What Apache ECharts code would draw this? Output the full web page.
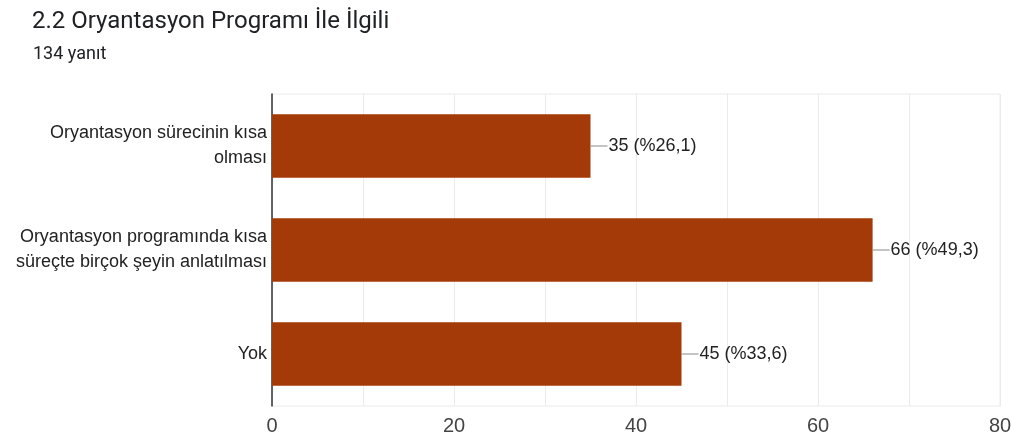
<!DOCTYPE html>
<html><head><meta charset="utf-8">
<script src="https://cdn.jsdelivr.net/npm/echarts@6/dist/echarts.min.js"></script>
<style>html,body{margin:0;padding:0;background:#fff}#c{width:1011px;height:438px}</style>
</head><body><div id="c"></div>
<script>
const titleText = '2.2 Oryantasyon Programı İle İlgili';
const subtitleText = '134 yanıt';
const categories = ['Oryantasyon sürecinin kısa\nolması', 'Oryantasyon programında kısa\nsüreçte birçok şeyin anlatılması', 'Yok'];
const counts = [35, 66, 45];
const percents = ['26,1', '49,3', '33,6'];
const xTicks = [0, 20, 40, 60, 80];

const chart = echarts.init(document.getElementById('c'), null, {renderer: 'canvas'});
chart.setOption({
  animation: false,
  title: [
    {text: titleText, left: 27, top: 5, textStyle: {fontFamily: 'Roboto', fontSize: 24, fontWeight: 'normal', color: '#202124'}},
    {text: subtitleText, left: 28, top: 40, textStyle: {fontFamily: 'Roboto', fontSize: 18, fontWeight: 'normal', color: '#202124'}}
  ],
  grid: {left: 272, right: 11, top: 94, bottom: 32, outerBoundsMode: 'none', containLabel: false, show: true, borderColor: '#ebebeb', borderWidth: 1},
  xAxis: {
    type: 'value', min: 0, max: 80, interval: 10,
    axisLine: {show: false}, axisTick: {show: false},
    splitLine: {show: true, lineStyle: {color: '#ebebeb', width: 1}},
    axisLabel: {
      margin: 10, fontFamily: 'Liberation Sans', fontSize: 20, color: '#444',
      formatter: v => xTicks.includes(v) ? String(v) : ''
    }
  },
  yAxis: {
    type: 'category', data: categories, inverse: true,
    axisLine: {show: true, lineStyle: {color: '#333', width: 1.5}},
    axisTick: {show: false},
    splitLine: {show: false},
    axisLabel: {margin: 5, fontFamily: 'Liberation Sans', fontSize: 18, lineHeight: 25, color: '#222', align: 'right'}
  },
  series: [{
    type: 'bar',
    data: counts,
    barWidth: '61%',
    itemStyle: {color: '#a33a08'},
    label: {
      show: true, position: 'right', distance: 0,
      formatter: p => '{l|}{v|' + counts[p.dataIndex] + ' (%' + percents[p.dataIndex] + ')}',
      rich: {
        l: {width: 17, height: 1, backgroundColor: '#888'},
        v: {fontFamily: 'Liberation Sans', fontSize: 18, color: '#222', padding: [0, 0, 0, 1]}
      }
    }
  }]
});
</script></body></html>
